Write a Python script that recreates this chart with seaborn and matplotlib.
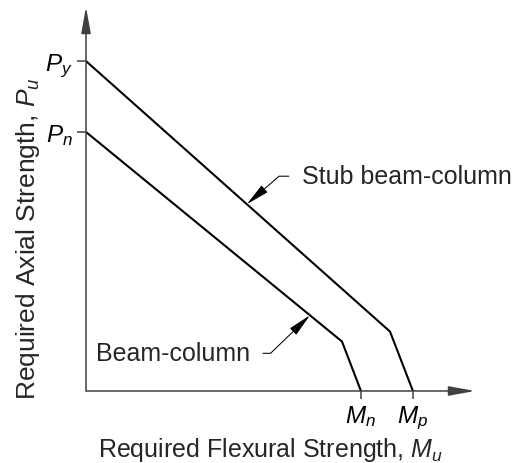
import numpy as np
import pandas as pd
import matplotlib
matplotlib.use('Agg')
import matplotlib.pyplot as plt
import seaborn as sns

# Interaction curves, normalised so that M_p = 1 and P_y = 1
stub_m = [0.0, 0.93, 1.0]
stub_p = [1.0, 0.18, 0.0]
beam_m = [0.0, 0.783, 0.841]
beam_p = [0.785, 0.15, 0.0]

m_ticks = [0.841, 1.0]
m_tick_labels = [r'$M_n$', r'$M_p$']
p_ticks = [0.785, 1.0]
p_tick_labels = [r'$P_n$', r'$P_y$']

curve_names = ['Stub beam-column', 'Beam-column']
leader_m = [0.492, 0.685]  # where each leader touches its curve

x_label = 'Required Flexural Strength, $M_u$'
y_label = 'Required Axial Strength, $P_u$'

sns.set_style('white')
plt.rcParams['font.family'] = ['Liberation Sans', 'DejaVu Sans']
plt.rcParams['mathtext.fontset'] = 'custom'
plt.rcParams['mathtext.it'] = 'Liberation Sans:italic'
plt.rcParams['mathtext.rm'] = 'Liberation Sans'

df = pd.concat([
    pd.DataFrame({'M': stub_m, 'P': stub_p, 'curve': curve_names[0]}),
    pd.DataFrame({'M': beam_m, 'P': beam_p, 'curve': curve_names[1]}),
], ignore_index=True)

fig = plt.figure(figsize=(5.12, 4.64), dpi=100)
ax = fig.add_axes([0.168, 0.1552, 0.7598, 0.8276])

sns.lineplot(data=df, x='M', y='P', units='curve', estimator=None, sort=False,
             color='black', lw=1.5, ax=ax, legend=False)

ax.set_xlim(0, 1.19)
ax.set_ylim(0, 1.164)
for s in ax.spines.values():
    s.set_visible(False)
ax.set_xlabel('')
ax.set_ylabel('')

axis_col = '#404040'
ax.set_xticks(m_ticks, m_tick_labels)
ax.set_yticks(p_ticks, p_tick_labels)
ax.tick_params(bottom=True, left=True, direction='out', width=1.1,
               color=axis_col, labelsize=17.5, labelcolor='black')
ax.tick_params(axis='x', length=6, pad=3)
ax.tick_params(axis='y', length=6.5, pad=3)

# Axis lines with arrow heads
head = '-|>,head_length=1.6,head_width=0.29'
for end in [(1, 0), (0, 1)]:
    ax.annotate('', xy=end, xytext=(0, 0), xycoords='axes fraction',
                textcoords='axes fraction', annotation_clip=False,
                arrowprops=dict(arrowstyle=head, mutation_scale=10, lw=1.1,
                                color=axis_col, shrinkA=0, shrinkB=0))

# Curve labels with leader arrows
curves = [(stub_m, stub_p), (beam_m, beam_p)]
offsets = [(55, 28), (-60, -38)]
rel_x = [0.0, 1.0]
aligns = ['left', 'right']
angles_b = [41, 44]
for name, (cm, cp), m, off, rx, ha, angb in zip(curve_names, curves, leader_m,
                                                 offsets, rel_x, aligns, angles_b):
    p = np.interp(m, cm[:2], cp[:2])
    ax.annotate(name, xy=(m, p), xytext=off, textcoords='offset pixels',
                ha=ha, va='center', fontsize=18,
                arrowprops=dict(arrowstyle='-|>,head_length=1.45,head_width=0.28',
                                mutation_scale=10, lw=0.75, color='black',
                                connectionstyle=f'angle,angleA=0,angleB={angb},rad=0',
                                relpos=(rx, 0.5), shrinkA=7, shrinkB=0))

fig.text(270 / 512, 1 - 457 / 464, x_label, ha='center', va='baseline', fontsize=18)
fig.text(28 / 512, 1 - 239 / 464, y_label, rotation=90, ha='center',
         va='center', fontsize=19)

fig.savefig('out.png', dpi=100)
